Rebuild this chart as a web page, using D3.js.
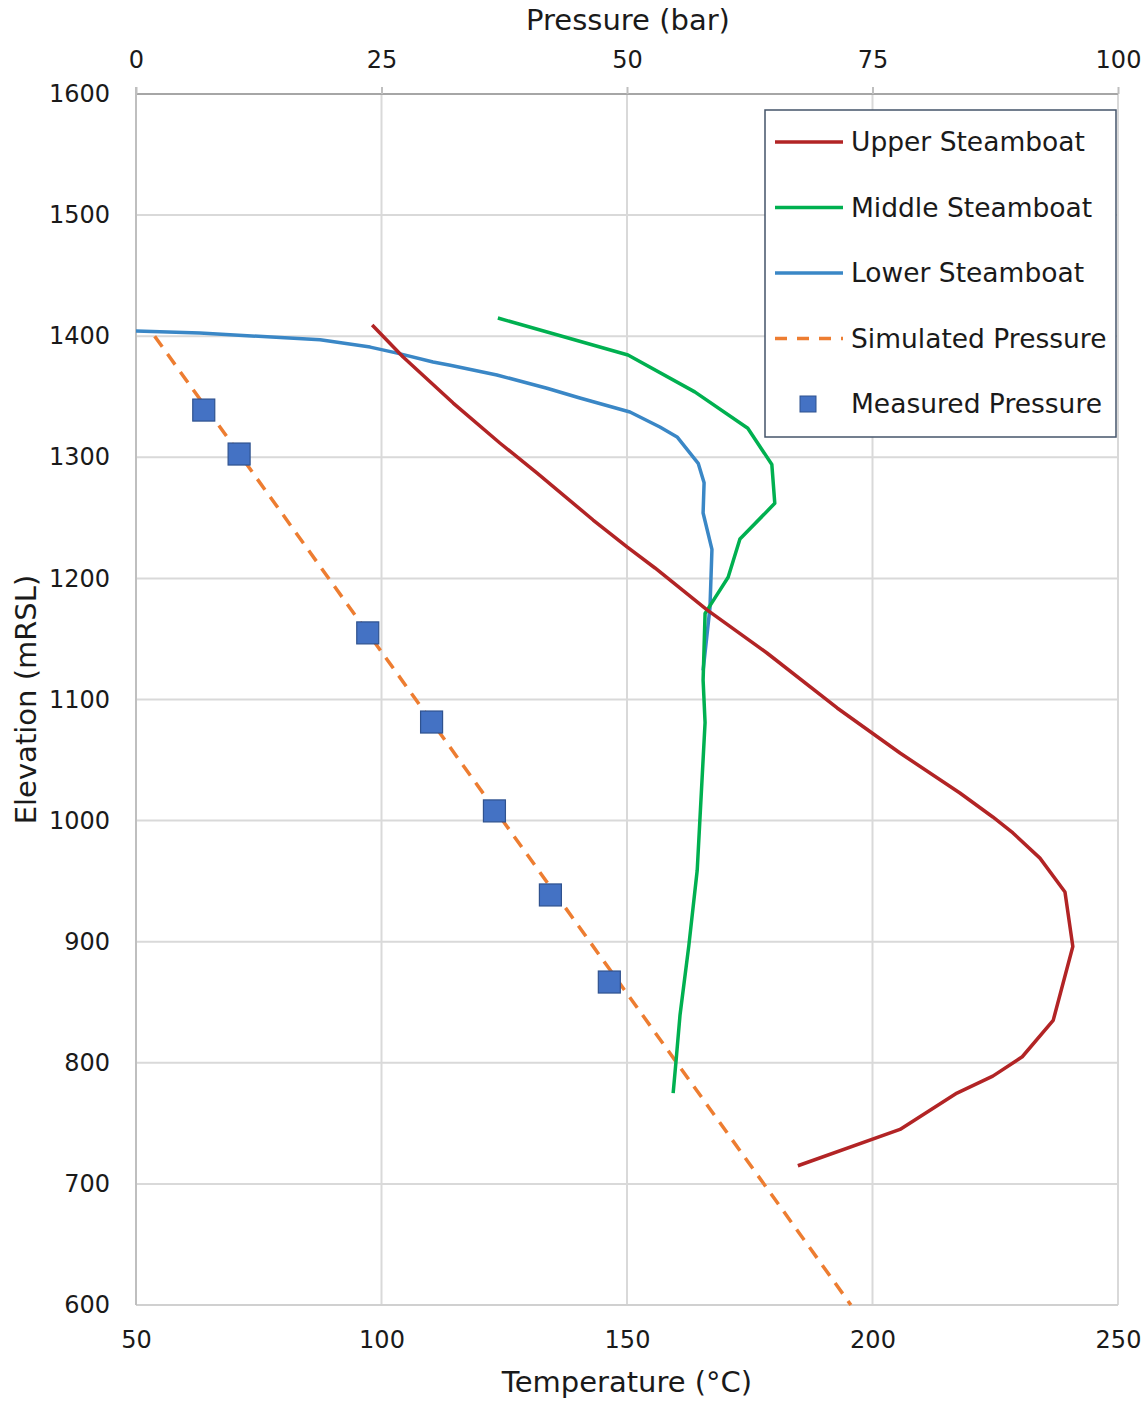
<!DOCTYPE html>
<html>
<head>
<meta charset="utf-8">
<script src="https://cdn.jsdelivr.net/npm/d3@7"></script>
<style>
  html, body { margin: 0; padding: 0; background: #fff; }
  svg text { font-family: "DejaVu Sans", sans-serif; fill: #1a1a1a; }
</style>
</head>
<body>
<svg id="chart" width="1148" height="1402"></svg>
<script>
// Temperature profiles: [temperature °C, elevation mRSL]
const upperSteamboat = [
  [98.1, 1409.3], [104.4, 1382.8], [114.6, 1344.8], [124.1, 1311.8], [131.7, 1287],
  [143.1, 1248.2], [150.0, 1226], [155.7, 1208.6], [166.3, 1174], [178.5, 1138.4],
  [192.8, 1093], [205.6, 1055.8], [217.8, 1022.8], [224.5, 1003], [228.6, 989.8],
  [234.1, 969], [239.2, 941], [240.8, 896], [236.8, 835], [230.5, 805],
  [224.5, 789], [217.2, 775], [205.6, 745], [184.8, 715]
];
const middleSteamboat = [
  [123.7, 1415], [150.2, 1384.5], [163.8, 1354], [174.6, 1324], [179.5, 1294],
  [180.1, 1262], [173.0, 1232.5], [170.6, 1201], [167.3, 1180], [165.9, 1171],
  [165.5, 1116], [165.9, 1081], [164.3, 959], [162.6, 897], [160.8, 839.5],
  [160.0, 802], [159.4, 775]
];
const lowerSteamboat = [
  [50.0, 1404.3], [63.0, 1402.6], [87.5, 1397], [97.7, 1391], [103.2, 1386],
  [110.5, 1378.7], [114.0, 1376], [123.5, 1368], [133.7, 1357], [140.4, 1349],
  [150.6, 1337.4], [156.7, 1325], [160.2, 1316.8], [164.5, 1295], [165.7, 1279],
  [165.5, 1254], [167.3, 1224], [166.9, 1176], [165.5, 1124]
];
// Pressure: [pressure bar, elevation mRSL]
const simulatedPressure = [[1.9, 1400], [72.8, 600]];
const measuredPressure = [
  [6.9, 1339], [10.5, 1302.7], [23.6, 1155], [30.1, 1081.4],
  [36.5, 1008], [42.2, 938.6], [48.2, 866.7]
];

const tempTicks = [50, 100, 150, 200, 250];
const pressureTicks = [0, 25, 50, 75, 100];
const elevTicks = [600, 700, 800, 900, 1000, 1100, 1200, 1300, 1400, 1500, 1600];

const seriesNames = ["Upper Steamboat", "Middle Steamboat", "Lower Steamboat", "Simulated Pressure", "Measured Pressure"];
const colors = {
  upper: "#b22425", middle: "#00b050", lower: "#3a87c6",
  sim: "#ed7d31", meas: "#4472c4", measStroke: "#2f528f"
};

const svg = d3.select("#chart");
const plotLeft = 136, plotRight = 1118, plotTop = 94, plotBottom = 1305;

const xT = d3.scaleLinear().domain([50, 250]).range([plotLeft, plotRight]);
const xP = d3.scaleLinear().domain([0, 100]).range([plotLeft, plotRight]);
const y = d3.scaleLinear().domain([600, 1600]).range([plotBottom, plotTop]);

// Gridlines
const grid = svg.append("g");
grid.selectAll("line.h").data(elevTicks.filter(d => d !== 1600)).join("line")
  .attr("x1", plotLeft).attr("x2", plotRight)
  .attr("y1", d => y(d)).attr("y2", d => y(d))
  .attr("stroke", "#d9d9d9").attr("stroke-width", 2);
grid.selectAll("line.v").data(tempTicks.filter(d => d !== 50)).join("line")
  .attr("x1", d => xT(d)).attr("x2", d => xT(d))
  .attr("y1", plotTop).attr("y2", plotBottom)
  .attr("stroke", "#d9d9d9").attr("stroke-width", 2);

// Axes
const axisB = d3.axisBottom(xT).tickValues(tempTicks).tickSize(0).tickPadding(26);
const axisT = d3.axisTop(xP).tickValues(pressureTicks).tickSize(7).tickPadding(19);
const axisL = d3.axisLeft(y).tickValues(elevTicks).tickSize(0).tickPadding(26).tickFormat(d3.format("d"));

const gB = svg.append("g").attr("transform", `translate(0,${plotBottom})`).call(axisB);
const gT = svg.append("g").attr("transform", `translate(0,${plotTop})`).call(axisT);
const gL = svg.append("g").attr("transform", `translate(${plotLeft},0)`).call(axisL);

[gB, gT, gL].forEach(g => {
  g.selectAll("text").attr("font-size", 24).attr("fill", "#1a1a1a")
    .style("font-family", "'DejaVu Sans', sans-serif");
  g.select(".domain").attr("stroke", "#bfbfbf").attr("stroke-width", 2);
  g.selectAll(".tick line").attr("stroke", "#bfbfbf").attr("stroke-width", 2);
});
gT.select(".domain").attr("stroke", "#a6a6a6").attr("d", `M${plotLeft},0H${plotRight}`);
gL.select(".domain").attr("d", `M0,${plotBottom}V${plotTop - 7}`);
gB.select(".domain").attr("stroke", "#d0d0d0").attr("d", `M${plotLeft},0H${plotRight}`);

// Axis titles
svg.append("text").attr("x", 628).attr("y", 30).attr("text-anchor", "middle")
  .attr("font-size", 29).text("Pressure (bar)");
svg.append("text").attr("x", 627).attr("y", 1392).attr("text-anchor", "middle")
  .attr("font-size", 29).text("Temperature (°C)");
svg.append("text").attr("transform", `translate(36,${y(1100)}) rotate(-90)`)
  .attr("text-anchor", "middle").attr("font-size", 29).text("Elevation (mRSL)");

// Series
const lineT = d3.line().x(d => xT(d[0])).y(d => y(d[1]));
const lineP = d3.line().x(d => xP(d[0])).y(d => y(d[1]));
const plot = svg.append("g");

plot.append("path").datum(simulatedPressure).attr("d", lineP)
  .attr("fill", "none").attr("stroke", colors.sim).attr("stroke-width", 3.5)
  .attr("stroke-dasharray", "13,9");
plot.append("path").datum(lowerSteamboat).attr("d", lineT)
  .attr("fill", "none").attr("stroke", colors.lower).attr("stroke-width", 3.5)
  .attr("stroke-linejoin", "round");
plot.append("path").datum(middleSteamboat).attr("d", lineT)
  .attr("fill", "none").attr("stroke", colors.middle).attr("stroke-width", 3.5)
  .attr("stroke-linejoin", "round");
plot.append("path").datum(upperSteamboat).attr("d", lineT)
  .attr("fill", "none").attr("stroke", colors.upper).attr("stroke-width", 3.5)
  .attr("stroke-linejoin", "round");

const sq = 22;
plot.selectAll("rect.meas").data(measuredPressure).join("rect")
  .attr("x", d => xP(d[0]) - sq / 2).attr("y", d => y(d[1]) - sq / 2)
  .attr("width", sq).attr("height", sq)
  .attr("fill", colors.meas).attr("stroke", colors.measStroke).attr("stroke-width", 1.2);

// Legend
const lg = svg.append("g");
lg.append("rect").attr("x", 765).attr("y", 110).attr("width", 351).attr("height", 327)
  .attr("fill", "#fff").attr("stroke", "#44546a").attr("stroke-width", 1.5);
const legendItems = [
  { name: seriesNames[0], type: "line", color: colors.upper },
  { name: seriesNames[1], type: "line", color: colors.middle },
  { name: seriesNames[2], type: "line", color: colors.lower },
  { name: seriesNames[3], type: "dash", color: colors.sim },
  { name: seriesNames[4], type: "square", color: colors.meas }
];
legendItems.forEach((it, i) => {
  const cy = 142 + i * 65.5;
  if (it.type === "square") {
    lg.append("rect").attr("x", 800).attr("y", cy - 8).attr("width", 16).attr("height", 16)
      .attr("fill", it.color).attr("stroke", colors.measStroke).attr("stroke-width", 1);
  } else {
    lg.append("line").attr("x1", 775).attr("x2", 843).attr("y1", cy).attr("y2", cy)
      .attr("stroke", it.color).attr("stroke-width", 3.5)
      .attr("stroke-dasharray", it.type === "dash" ? "12,10" : null);
  }
  lg.append("text").attr("x", 851).attr("y", cy).attr("dy", "0.35em")
    .attr("font-size", 26.5).text(it.name);
});
</script>
</body>
</html>
